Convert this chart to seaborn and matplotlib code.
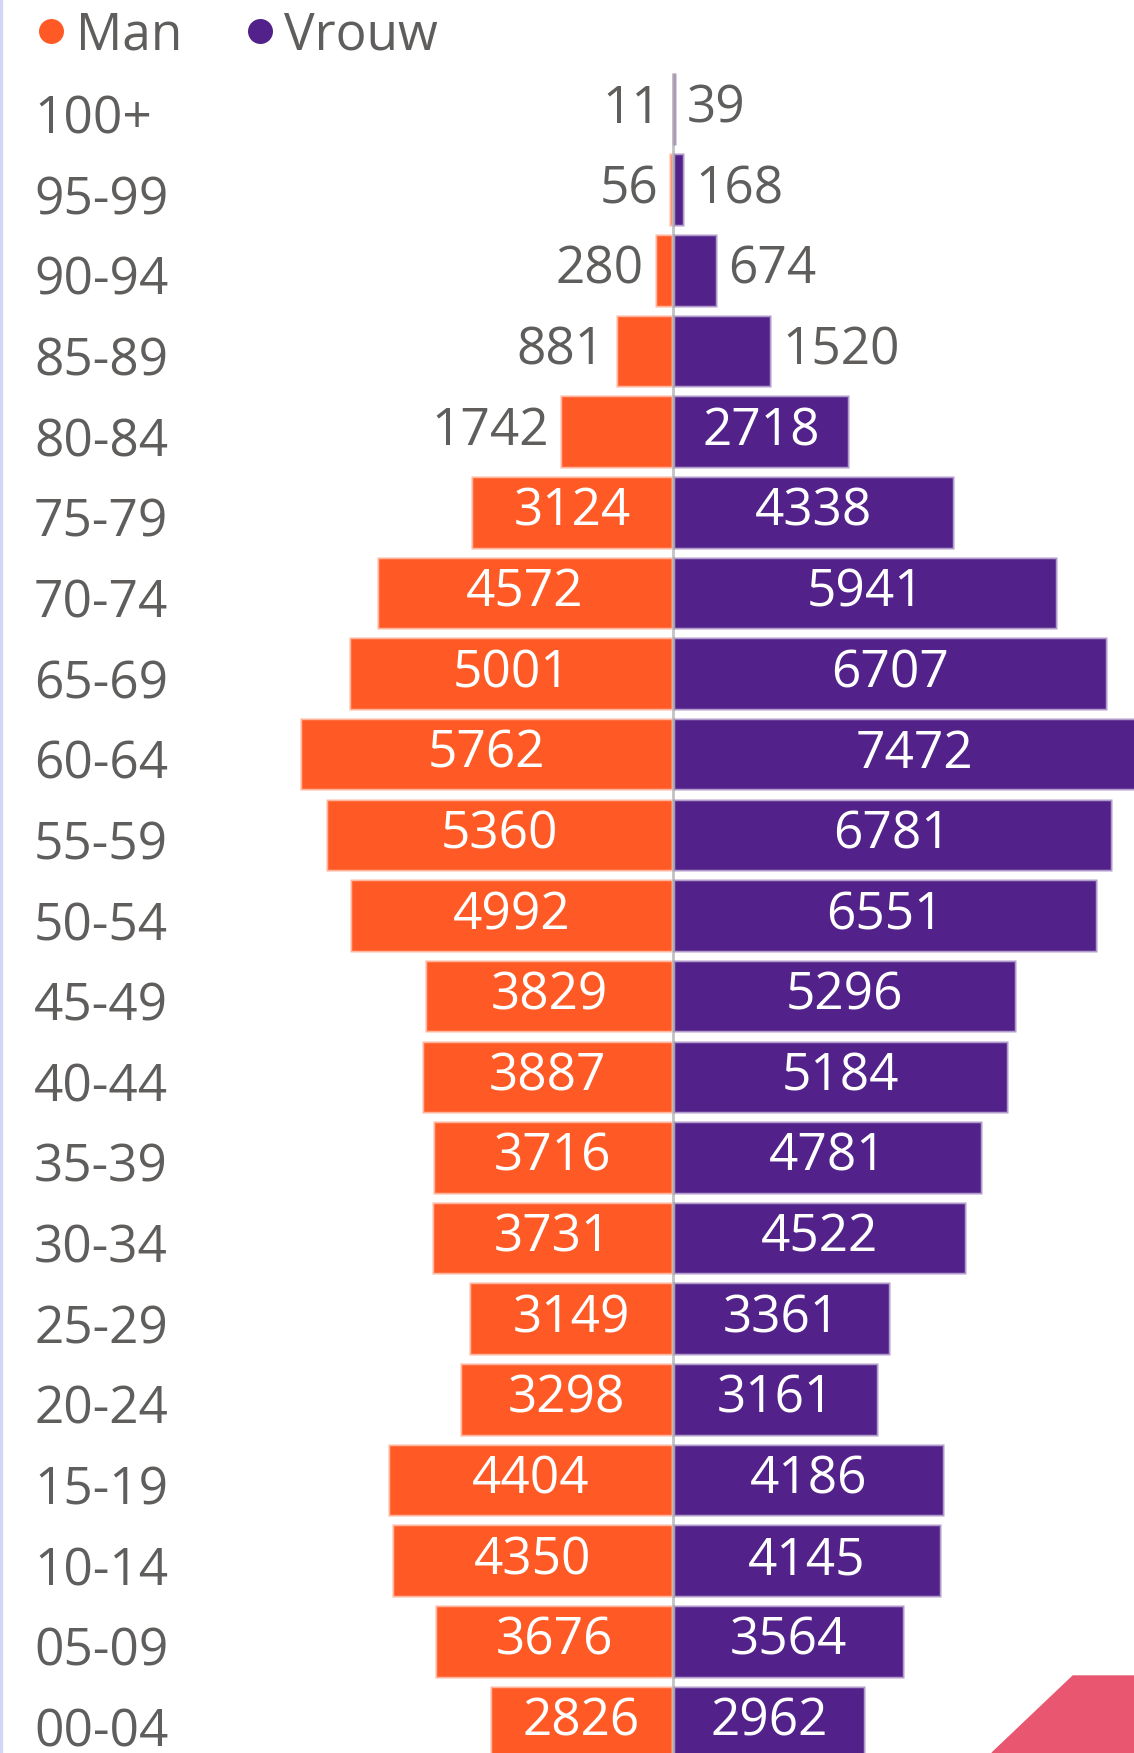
import matplotlib.pyplot as plt
import matplotlib.transforms as mtransforms
import pandas as pd
import seaborn as sns
from matplotlib.lines import Line2D
from matplotlib.patches import Polygon, Rectangle

age_groups = ["100+", "95-99", "90-94", "85-89", "80-84", "75-79", "70-74",
              "65-69", "60-64", "55-59", "50-54", "45-49", "40-44", "35-39",
              "30-34", "25-29", "20-24", "15-19", "10-14", "05-09", "00-04"]
man = [11, 56, 280, 881, 1742, 3124, 4572, 5001, 5762, 5360, 4992,
       3829, 3887, 3716, 3731, 3149, 3298, 4404, 4350, 3676, 2826]
vrouw = [39, 168, 674, 1520, 2718, 4338, 5941, 6707, 7472, 6781, 6551,
         5296, 5184, 4781, 4522, 3361, 3161, 4186, 4145, 3564, 2962]
sexes = ["Man", "Vrouw"]
colors = {"Man": "#FF5A26", "Vrouw": "#52228A"}

W, H = 1134, 1753
label_color = "#605E5C"
font = "Open Sans"

df = pd.concat([
    pd.DataFrame({"leeftijd": age_groups, "geslacht": "Man", "aantal": man}),
    pd.DataFrame({"leeftijd": age_groups, "geslacht": "Vrouw", "aantal": vrouw}),
])
df["x"] = df["aantal"].where(df["geslacht"] == "Vrouw", -df["aantal"])

sns.set_theme(style="white")
plt.rcParams["font.family"] = [font, "DejaVu Sans"]

fig = plt.figure(figsize=(W / 100, H / 100), dpi=100)
ax = fig.add_axes([0, 0, 1, 1])
sns.barplot(data=df, x="x", y="leeftijd", hue="geslacht", order=age_groups,
            hue_order=sexes, palette=colors, dodge=False, width=0.9,
            orient="h", legend=False, edgecolor=(1, 1, 1, 0.55), linewidth=2.5,
            saturation=1, ax=ax)

# scales: centre at 673 px, 0.0647 px per person, rows every 80.65 px
px_per = 0.0647
ax.set_xlim(-673 / px_per, (W - 673) / px_per)
ax.set_ylim((H - 109) / 80.65, -109 / 80.65)

ax.vlines(0, -0.45, len(age_groups) - 0.55, color="#9A9A9A", lw=2, alpha=0.6, zorder=5)

for i, (m, v) in enumerate(zip(man, vrouw)):
    for val, sign in ((m, -1), (v, 1)):
        if val >= 2000:
            ax.text(sign * val / 2, i, str(val), ha="center", va="center",
                    color="white", fontsize=37, zorder=6)
        else:
            ax.annotate(str(val), (sign * val, i), xytext=(sign * 8, 0),
                        textcoords="offset points", ha="left" if sign > 0 else "right",
                        va="center", color=label_color, fontsize=37, zorder=6)

ax.set_xlabel("")
ax.set_ylabel("")
ax.set_xticks([])
ax.tick_params(axis="y", length=0, pad=-24.5, labelsize=37, labelcolor=label_color)
shift = mtransforms.ScaledTranslation(0, -5 / 100, fig.dpi_scale_trans)
for lbl in ax.get_yticklabels():
    lbl.set_ha("left")
    lbl.set_transform(lbl.get_transform() + shift)
sns.despine(ax=ax, left=True, bottom=True)

handles = [Line2D([], [], marker="o", linestyle="", markersize=18,
                  markerfacecolor=colors[s], markeredgecolor="none") for s in sexes]
leg = fig.legend(handles, sexes, loc="upper left", bbox_to_anchor=(36 / W, 1 - 10 / H),
                 ncol=2, frameon=False, fontsize=37, handlelength=0.6,
                 handletextpad=0.18, columnspacing=1.2, borderpad=0,
                 borderaxespad=0)
for t in leg.get_texts():
    t.set_color(label_color)

fig.patches.append(Rectangle((0, 0), 2 / W, 1, transform=fig.transFigure,
                             color="#D4D4F6", zorder=10))
fig.patches.append(Polygon([(992 / W, 0), (1073 / W, 77 / H), (1, 77 / H), (1, 0)],
                           closed=True, transform=fig.transFigure,
                           color="#E8566F", zorder=10))

fig.savefig("out.png", dpi=100)
plt.close(fig)
